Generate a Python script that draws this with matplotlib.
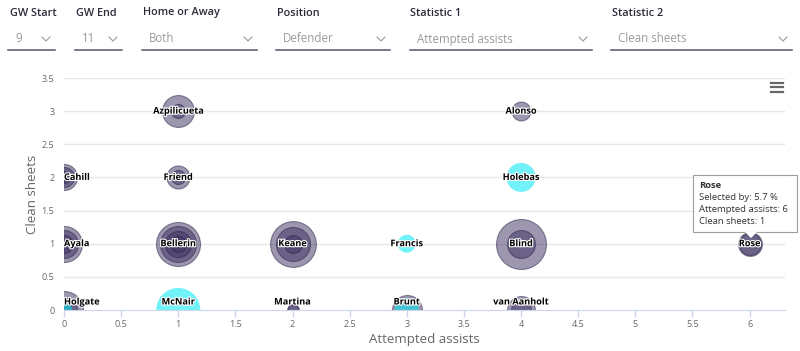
#!/usr/bin/env python3

import numpy as np
import matplotlib.pyplot as plt
import matplotlib.patheffects as pe
from matplotlib.lines import Line2D
from matplotlib.patches import Rectangle, Polygon

plt.rcParams['font.family'] = ['Open Sans', 'DejaVu Sans']

# labelled players: attempted assists, clean sheets, selected by %, group
names = ['Azpilicueta', 'Alonso', 'Cahill', 'Friend', 'Holebas', 'Ayala',
         'Bellerin', 'Keane', 'Francis', 'Blind', 'Rose', 'Holgate',
         'McNair', 'Martina', 'Brunt', 'van Aanholt']
assists = [1, 4, 0, 1, 4, 0, 1, 2, 3, 4, 6, 0, 1, 2, 3, 4]
sheets = [3, 3, 2, 2, 2, 1, 1, 1, 1, 1, 1, 0, 0, 0, 0, 0]
selected = [10.2, 3.6, 6.8, 5.3, 8.4, 13.0, 19.4, 21.0, 3.2, 25.0, 5.7,
            14.4, 19.4, 1.4, 9.0, 7.8]
group = ['p', 'p', 'p', 'p', 'c', 'p', 'p', 'p', 'c', 'p', 'p', 'p',
         'c', 'p', 'p', 'p']

# other players hidden underneath the labelled ones
extra_assists = [1, 0, 0, 1, 0, 0, 1, 1, 1, 2, 2, 4, 6, 0, 0, 3, 4, 2]
extra_sheets = [3, 2, 2, 2, 1, 1, 1, 1, 1, 1, 1, 1, 1, 0, 0, 0, 0, 0]
extra_selected = [2.0, 4.0, 1.4, 2.0, 7.8, 3.2, 13.0, 6.8, 2.6, 11.6, 3.2,
                  7.8, 4.8, 6.8, 2.6, 5.8, 4.0, 1.2]
extra_group = ['p', 'p', 'p', 'p', 'p', 'p', 'p', 'p', 'p', 'p', 'p', 'p',
               'p', 'p', 'c', 'c', 'p', 'p']

x_ticks = [0, 0.5, 1, 1.5, 2, 2.5, 3, 3.5, 4, 4.5, 5, 5.5, 6]
y_ticks = [0, 0.5, 1, 1.5, 2, 2.5, 3, 3.5]

# header filters
filter_labels = ['GW Start', 'GW End', 'Home or Away', 'Position',
                 'Statistic 1', 'Statistic 2']
filter_values = ['9', '11', 'Both', 'Defender', 'Attempted assists',
                 'Clean sheets']

W, H = 800, 351
PURPLE = '#3b2f61'
CYAN = '#00e8f4'


def fx(px):
    return px / W


def fy(py):
    return 1 - py / H


def bubble_size(sel):
    # radius in pixels ~ sqrt of selection share, scatter wants pt^2
    r_px = 5.0 * np.sqrt(np.array(sel))
    return (2 * r_px * 72 / 100) ** 2


def draw_bubbles(ax, xs, ys, sel, grp):
    xs = np.array(xs)
    ys = np.array(ys)
    sizes = bubble_size(sel)
    order = np.argsort(-sizes)
    for i in order:
        if grp[i] == 'c':
            ax.scatter(xs[i], ys[i], s=sizes[i], color=CYAN, alpha=0.56,
                       edgecolors='none', zorder=3)
        else:
            ax.scatter(xs[i], ys[i], s=sizes[i], facecolor=PURPLE,
                       alpha=0.5, edgecolors='#2a2045', linewidths=0.8,
                       zorder=3)


fig = plt.figure(figsize=(8, 3.51), dpi=100)
ax = fig.add_axes([fx(64), fy(310), fx(785) - fx(64), fy(78) - fy(310)])

ax.set_xlim(0, 6.31)
ax.set_ylim(0, 3.5)
for yv in y_ticks[1:]:
    ax.axhline(yv, color='#e6e6e6', lw=1, zorder=1)

draw_bubbles(ax, extra_assists + assists, extra_sheets + sheets,
             extra_selected + selected, extra_group + group)

outline = [pe.withStroke(linewidth=1.6, foreground='white')]
for n, xv, yv in zip(names, assists, sheets):
    ha = 'left' if xv == 0 else 'center'
    dy = 8 if yv == 0 else 0
    ax.annotate(n, (xv, yv), xytext=(0, dy), textcoords='offset pixels',
                ha=ha, va='center', fontsize=6.6, fontweight='bold',
                color='black', path_effects=outline, zorder=5,
                annotation_clip=False)

for s in ['top', 'right', 'left']:
    ax.spines[s].set_visible(False)
ax.spines['bottom'].set_color('#ccd6eb')
ax.spines['bottom'].set_zorder(4)
ax.set_xticks(x_ticks)
ax.set_xticklabels([('%g' % t) for t in x_ticks])
ax.set_yticks(y_ticks)
ax.set_yticklabels([('%g' % t) for t in y_ticks])
ax.tick_params(axis='x', colors='#ccd6eb', labelcolor='#666666',
               labelsize=6.5, length=5, width=1, pad=2)
ax.tick_params(axis='y', length=0, labelcolor='#666666', labelsize=6.5,
               pad=7)
ax.set_xlabel('Attempted assists', fontsize=9.5, color='#666666',
              labelpad=3)
ax.set_ylabel('Clean sheets', fontsize=9.5, color='#666666', labelpad=2)

# header with drop-downs
label_x = [10, 76, 143, 277, 410, 612]
line_x0 = [8, 75, 142, 276, 410, 611]
line_x1 = [55, 122, 257, 390, 592, 792]
for lab, val, lx, x0, x1 in zip(filter_labels, filter_values, label_x,
                                line_x0, line_x1):
    fig.text(fx(lx), fy(13), lab, fontsize=7.8, fontweight='semibold',
             color='#2b2b3a', ha='left', va='center')
    fig.text(fx(x0 + 7), fy(39), val, fontsize=8.3, color='#9a9a9a',
             ha='left', va='center')
    fig.add_artist(Line2D([fx(x0), fx(x1)], [fy(49.5), fy(49.5)],
                          color='#55556a', lw=1.1))
    cx = x1 - 9
    fig.add_artist(Line2D([fx(cx - 4), fx(cx), fx(cx + 4)],
                          [fy(37), fy(41), fy(37)], color='#9a9a9a',
                          lw=0.8))

# menu icon
for py in [82.5, 87, 91.5]:
    fig.add_artist(Line2D([fx(771), fx(783)], [fy(py), fy(py)],
                          color='#666666', lw=1.6))

# tooltip for Rose
i = names.index('Rose')
fig.add_artist(Rectangle((fx(693), fy(232)), fx(104), fy(175) - fy(232),
                         facecolor='white', edgecolor='#999999', lw=0.8,
                         alpha=0.96, zorder=10))
fig.add_artist(Polygon([[fx(745), fy(232)], [fx(757), fy(232)],
                        [fx(751), fy(238)]], closed=True,
                       facecolor='white', edgecolor='none', zorder=11))
fig.text(fx(699), fy(186), names[i], fontsize=6.8, fontweight='bold',
         color='#333333', va='center', zorder=12)
tip_lines = ['Selected by: %g %%' % selected[i],
             'Attempted assists: %g' % assists[i],
             'Clean sheets: %g' % sheets[i]]
for k, t in enumerate(tip_lines):
    fig.text(fx(699), fy(198 + 12 * k), t, fontsize=6.8, color='#333333',
             va='center', zorder=12)

fig.savefig('out.png', dpi=100)
